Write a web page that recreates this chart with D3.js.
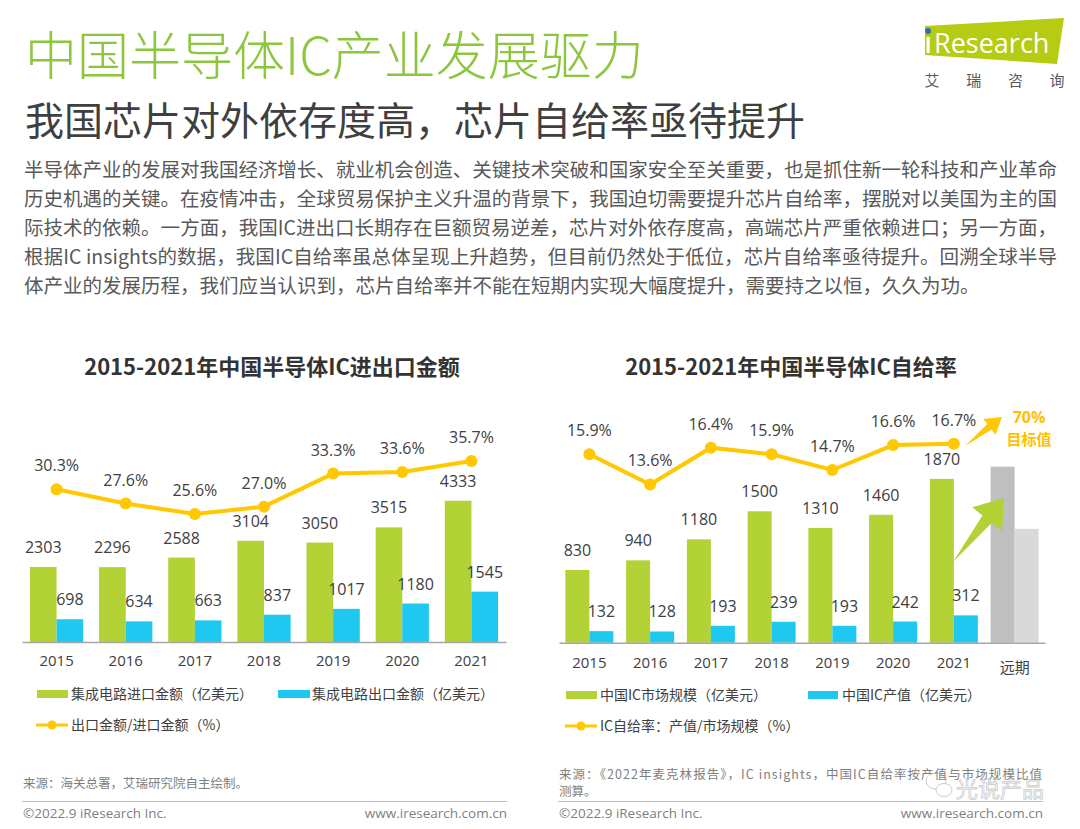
<!DOCTYPE html>
<html><head><meta charset="utf-8">
<script src="https://cdn.jsdelivr.net/npm/d3@7"></script>
<style>body{margin:0;background:#fff}svg{display:block}</style>
</head><body>
<svg id="c" width="1080" height="829"></svg>
<script>
// ---------- data ----------
const years = ["2015","2016","2017","2018","2019","2020","2021"];
const importVals = [2303,2296,2588,3104,3050,3515,4333];
const exportVals = [698,634,663,837,1017,1180,1545];
const exportRatio = [30.3,27.6,25.6,27.0,33.3,33.6,35.7];

const rightCats = ["2015","2016","2017","2018","2019","2020","2021","远期"];
const marketVals = [830,940,1180,1500,1310,1460,1870];
const outputVals = [132,128,193,239,193,242,312];
const selfRate = [15.9,13.6,16.4,15.9,14.7,16.6,16.7];
const farTermVals = [2010,1300];   // schematic target bars (market, output)

const logoChars = ["艾","瑞","咨","询"];
const paragraph = [
 "半导体产业的发展对我国经济增长、就业机会创造、关键技术突破和国家安全至关重要，也是抓住新一轮科技和产业革命",
 "历史机遇的关键。在疫情冲击，全球贸易保护主义升温的背景下，我国迫切需要提升芯片自给率，摆脱对以美国为主的国",
 "际技术的依赖。一方面，我国IC进出口长期存在巨额贸易逆差，芯片对外依存度高，高端芯片严重依赖进口；另一方面，",
 "根据IC insights的数据，我国IC自给率虽总体呈现上升趋势，但目前仍然处于低位，芯片自给率亟待提升。回溯全球半导",
 "体产业的发展历程，我们应当认识到，芯片自给率并不能在短期内实现大幅度提升，需要持之以恒，久久为功。"
];

// ---------- styles ----------
const CJK = "'Noto Sans CJK SC','Noto Sans',sans-serif";
const NUM = "'Open Sans','Noto Sans CJK SC',sans-serif";
const GREEN = "#b2d235", BLUE = "#1ec8f0", YELLOW = "#ffc800", TXT = "#404040";
const LBL = 16;

const svg = d3.select("#c");
svg.append("rect").attr("width",1080).attr("height",829).attr("fill","#fff");

// ---------- header ----------
svg.append("text").attr("x",25).attr("y",75).attr("font-family",CJK).attr("font-size",52)
  .attr("font-weight",300).attr("fill","#8cc63f").text("中国半导体IC产业发展驱力");
svg.append("text").attr("x",25).attr("y",135).attr("font-family",CJK).attr("font-size",39)
  .attr("fill","#3f3f3f").text("我国芯片对外依存度高，芯片自给率亟待提升");

// logo
svg.append("polygon").attr("points","925,26 1064,18 1057,64 925,55").attr("fill","#b5cc12");
svg.append("circle").attr("cx",928).attr("cy",31).attr("r",3).attr("fill","#2c6fb7");
svg.append("rect").attr("x",926.5).attr("y",37).attr("width",3.2).attr("height",16).attr("fill","#fff");
svg.append("text").attr("x",934).attr("y",53).attr("font-family","'Open Sans',sans-serif")
  .attr("font-size",27).attr("fill","#fff").text("Research");
svg.append("g").selectAll("text").data(logoChars).join("text")
  .attr("x",(d,i)=>932+i*41.7).attr("y",86).attr("text-anchor","middle")
  .attr("font-family",CJK).attr("font-size",15).attr("fill","#595959").text(d=>d);

// paragraph
svg.append("g").selectAll("text").data(paragraph).join("text")
  .attr("x",24).attr("y",(d,i)=>177+i*29)
  .attr("font-family",CJK).attr("font-size",19.5).attr("fill","#595959")
  .each(function(d,i){ if(i<4) d3.select(this).attr("textLength",1033).attr("lengthAdjust","spacing"); })
  .text(d=>d);

// ---------- helper ----------
function arrowPts(x0,y0,x1,y1,tailW,shaftW,headW,headL){
  const dx=x1-x0, dy=y1-y0, L=Math.hypot(dx,dy), ux=dx/L, uy=dy/L, nx=-uy, ny=ux;
  const bx=x1-ux*headL, by=y1-uy*headL;
  const p=[[x0+nx*tailW/2,y0+ny*tailW/2],[bx+nx*shaftW/2,by+ny*shaftW/2],[bx+nx*headW/2,by+ny*headW/2],
    [x1,y1],[bx-nx*headW/2,by-ny*headW/2],[bx-nx*shaftW/2,by-ny*shaftW/2],[x0-nx*tailW/2,y0-ny*tailW/2]];
  return p.map(q=>q.join(",")).join(" ");
}

// ---------- left chart ----------
{
  const g = svg.append("g");
  const base = 642;
  g.append("text").attr("x",272).attr("y",375).attr("text-anchor","middle").attr("font-family",CJK)
    .attr("font-size",22).attr("font-weight",700).attr("fill","#333").text("2015-2021年中国半导体IC进出口金额");
  const x = d3.scaleBand().domain(years).range([22,506]).paddingInner(0.23).paddingOuter(0.115);
  const y = d3.scaleLinear().domain([0,5000]).range([base,479]);
  const r = d3.scaleLinear().domain([0,40]).range([648.4,438.4]);
  const h = x.bandwidth()/2;
  const imp = years.map((k,i)=>({k,v:importVals[i]}));
  const exp = years.map((k,i)=>({k,v:exportVals[i]}));
  const rat = years.map((k,i)=>({k,v:exportRatio[i]}));
  g.selectAll(".bi").data(imp).join("rect").attr("x",d=>x(d.k)).attr("y",d=>y(d.v))
    .attr("width",h).attr("height",d=>base-y(d.v)).attr("fill",GREEN);
  g.selectAll(".be").data(exp).join("rect").attr("x",d=>x(d.k)+h).attr("y",d=>y(d.v))
    .attr("width",h).attr("height",d=>base-y(d.v)).attr("fill",BLUE);
  const ax = g.append("g").attr("transform",`translate(0,${base})`)
    .call(d3.axisBottom(x).tickSize(0).tickPadding(13).tickSizeOuter(0));
  ax.select(".domain").attr("stroke","#a6a6a6").attr("stroke-width",1.5);
  ax.selectAll("text").attr("font-family",NUM).attr("font-size",15).attr("fill",TXT);
  g.selectAll(".li").data(imp).join("text").attr("x",d=>x(d.k)+h/2).attr("y",d=>y(d.v)-14)
    .attr("text-anchor","middle").attr("font-family",NUM).attr("font-size",LBL).attr("fill",TXT).text(d=>d.v);
  g.selectAll(".le").data(exp).join("text").attr("x",d=>x(d.k)+h*1.5).attr("y",d=>y(d.v)-14)
    .attr("text-anchor","middle").attr("font-family",NUM).attr("font-size",LBL).attr("fill",TXT).text(d=>d.v);
  const line = d3.line().x(d=>x(d.k)+h).y(d=>r(d.v));
  g.append("path").datum(rat).attr("d",line).attr("fill","none").attr("stroke",YELLOW).attr("stroke-width",4);
  g.selectAll(".pt").data(rat).join("circle").attr("cx",d=>x(d.k)+h).attr("cy",d=>r(d.v)).attr("r",6).attr("fill",YELLOW);
  g.selectAll(".lp").data(rat).join("text").attr("x",d=>x(d.k)+h).attr("y",d=>r(d.v)-18)
    .attr("text-anchor","middle").attr("font-family",NUM).attr("font-size",LBL).attr("fill",TXT).text(d=>d.v.toFixed(1)+"%");
  // legend
  g.append("rect").attr("x",37).attr("y",690).attr("width",31).attr("height",8).attr("fill",GREEN);
  g.append("text").attr("x",71).attr("y",699).attr("font-family",CJK).attr("font-size",14).attr("fill",TXT).text("集成电路进口金额（亿美元）");
  g.append("rect").attr("x",278).attr("y",690).attr("width",32).attr("height",8).attr("fill",BLUE);
  g.append("text").attr("x",312).attr("y",699).attr("font-family",CJK).attr("font-size",14).attr("fill",TXT).text("集成电路出口金额（亿美元）");
  g.append("line").attr("x1",36).attr("x2",68).attr("y1",725).attr("y2",725).attr("stroke",YELLOW).attr("stroke-width",3);
  g.append("circle").attr("cx",52).attr("cy",725).attr("r",4.5).attr("fill",YELLOW);
  g.append("text").attr("x",71).attr("y",730).attr("font-family",CJK).attr("font-size",14).attr("fill",TXT).text("出口金额/进口金额（%）");
  // source & footer
  g.append("text").attr("x",23).attr("y",788).attr("font-family",CJK).attr("font-size",12.5).attr("fill","#7f7f7f").text("来源：海关总署，艾瑞研究院自主绘制。");
  g.append("line").attr("x1",22).attr("x2",507).attr("y1",801.5).attr("y2",801.5).attr("stroke","#bfbfbf");
  g.append("text").attr("x",23).attr("y",818).attr("font-family",NUM).attr("font-size",13.5).attr("fill","#7f7f7f").text("©2022.9 iResearch Inc.");
  g.append("text").attr("x",507).attr("y",818).attr("text-anchor","end").attr("font-family",NUM).attr("font-size",13.5).attr("fill","#7f7f7f").text("www.iresearch.com.cn");
}

// ---------- right chart ----------
{
  const g = svg.append("g");
  const base = 642.7;
  g.append("text").attr("x",791).attr("y",375).attr("text-anchor","middle").attr("font-family",CJK)
    .attr("font-size",22).attr("font-weight",700).attr("fill","#333").text("2015-2021年中国半导体IC自给率");
  const x = d3.scaleBand().domain(rightCats).range([559,1045]).paddingInner(0.21).paddingOuter(0.105);
  const y = d3.scaleLinear().domain([0,2000]).range([base,467.5]);
  const r = d3.scaleLinear().domain([0,20]).range([663,400.4]);
  const h = x.bandwidth()/2;
  const mk = years.map((k,i)=>({k,v:marketVals[i]}));
  const op = years.map((k,i)=>({k,v:outputVals[i]}));
  const sr = years.map((k,i)=>({k,v:selfRate[i]}));
  g.selectAll(".bm").data(mk).join("rect").attr("x",d=>x(d.k)).attr("y",d=>y(d.v))
    .attr("width",h).attr("height",d=>base-y(d.v)).attr("fill",GREEN);
  g.selectAll(".bo").data(op).join("rect").attr("x",d=>x(d.k)+h).attr("y",d=>y(d.v))
    .attr("width",h).attr("height",d=>base-y(d.v)).attr("fill",BLUE);
  // far-term schematic bars
  g.selectAll(".bf").data(farTermVals).join("rect").attr("x",(d,i)=>x("远期")+i*h).attr("y",d=>y(d))
    .attr("width",h).attr("height",d=>base-y(d)).attr("fill",(d,i)=>i?"#d9d9d9":"#bfbfbf");
  const ax = g.append("g").attr("transform",`translate(0,${base})`)
    .call(d3.axisBottom(x).tickSize(0).tickPadding(15).tickSizeOuter(0));
  ax.select(".domain").attr("stroke","#a6a6a6").attr("stroke-width",1.5);
  ax.selectAll("text").attr("font-family",NUM).attr("font-size",15).attr("fill",TXT)
    .filter(d=>d==="远期").attr("font-family",CJK).attr("dy","1em");
  g.selectAll(".lm").data(mk).join("text").attr("x",d=>x(d.k)+h/2).attr("y",d=>y(d.v)-14)
    .attr("text-anchor","middle").attr("font-family",NUM).attr("font-size",LBL).attr("fill",TXT).text(d=>d.v);
  g.selectAll(".lo").data(op).join("text").attr("x",d=>x(d.k)+h*1.5).attr("y",d=>y(d.v)-14)
    .attr("text-anchor","middle").attr("font-family",NUM).attr("font-size",LBL).attr("fill",TXT).text(d=>d.v);
  // green arrow
  g.append("polygon").attr("points",arrowPts(953,562,1004,498,0,12,38,27)).attr("fill",GREEN);
  const line = d3.line().x(d=>x(d.k)+h).y(d=>r(d.v));
  g.append("path").datum(sr).attr("d",line).attr("fill","none").attr("stroke",YELLOW).attr("stroke-width",4);
  g.selectAll(".pt").data(sr).join("circle").attr("cx",d=>x(d.k)+h).attr("cy",d=>r(d.v)).attr("r",6).attr("fill",YELLOW);
  g.selectAll(".lp").data(sr).join("text").attr("x",d=>x(d.k)+h).attr("y",d=>r(d.v)-18)
    .attr("text-anchor","middle").attr("font-family",NUM).attr("font-size",LBL).attr("fill",TXT).text(d=>d.v.toFixed(1)+"%");
  // yellow arrow + target
  g.append("polygon").attr("points",arrowPts(965,446,1002,417,0,7,20,16)).attr("fill",YELLOW);
  g.append("text").attr("x",1029).attr("y",423).attr("text-anchor","middle").attr("font-family",NUM)
    .attr("font-size",16).attr("font-weight",700).attr("fill","#ffc000").text("70%");
  g.append("text").attr("x",1029).attr("y",445).attr("text-anchor","middle").attr("font-family",CJK)
    .attr("font-size",15).attr("font-weight",700).attr("fill","#ffc000").text("目标值");
  // legend
  g.append("rect").attr("x",566).attr("y",691).attr("width",31).attr("height",8).attr("fill",GREEN);
  g.append("text").attr("x",600).attr("y",700).attr("font-family",CJK).attr("font-size",14).attr("fill",TXT).text("中国IC市场规模（亿美元）");
  g.append("rect").attr("x",808).attr("y",691).attr("width",30).attr("height",8).attr("fill",BLUE);
  g.append("text").attr("x",842).attr("y",700).attr("font-family",CJK).attr("font-size",14).attr("fill",TXT).text("中国IC产值（亿美元）");
  g.append("line").attr("x1",565).attr("x2",597).attr("y1",726).attr("y2",726).attr("stroke",YELLOW).attr("stroke-width",3);
  g.append("circle").attr("cx",581).attr("cy",726).attr("r",4.5).attr("fill",YELLOW);
  g.append("text").attr("x",600).attr("y",731).attr("font-family",CJK).attr("font-size",14).attr("fill",TXT).text("IC自给率：产值/市场规模（%）");
  // source & footer
  g.append("text").attr("x",559).attr("y",779).attr("font-family",CJK).attr("font-size",12.5).attr("fill","#7f7f7f")
    .attr("textLength",483).attr("lengthAdjust","spacing").text("来源：《2022年麦克林报告》，IC insights，中国IC自给率按产值与市场规模比值");
  g.append("text").attr("x",559).attr("y",796).attr("font-family",CJK).attr("font-size",12.5).attr("fill","#7f7f7f").text("测算。");
  g.append("line").attr("x1",558).attr("x2",1043).attr("y1",801.5).attr("y2",801.5).attr("stroke","#bfbfbf");
  g.append("text").attr("x",559).attr("y",818).attr("font-family",NUM).attr("font-size",13.5).attr("fill","#7f7f7f").text("©2022.9 iResearch Inc.");
  g.append("text").attr("x",1043).attr("y",818).attr("text-anchor","end").attr("font-family",NUM).attr("font-size",13.5).attr("fill","#7f7f7f").text("www.iresearch.com.cn");
  // watermark overlay (as in the source image)
  const wm = g.append("g").attr("opacity",0.5);
  wm.append("ellipse").attr("cx",936).attr("cy",781).attr("rx",10).attr("ry",8).attr("fill","none").attr("stroke","#999");
  wm.append("ellipse").attr("cx",944).attr("cy",790).attr("rx",8).attr("ry",6.5).attr("fill","#fff").attr("stroke","#999");
  wm.append("text").attr("x",956).attr("y",797).attr("font-family",CJK).attr("font-size",22).attr("fill","none")
    .attr("stroke","#999").attr("stroke-width",0.8).text("光说产品");
}
</script>
</body></html>
